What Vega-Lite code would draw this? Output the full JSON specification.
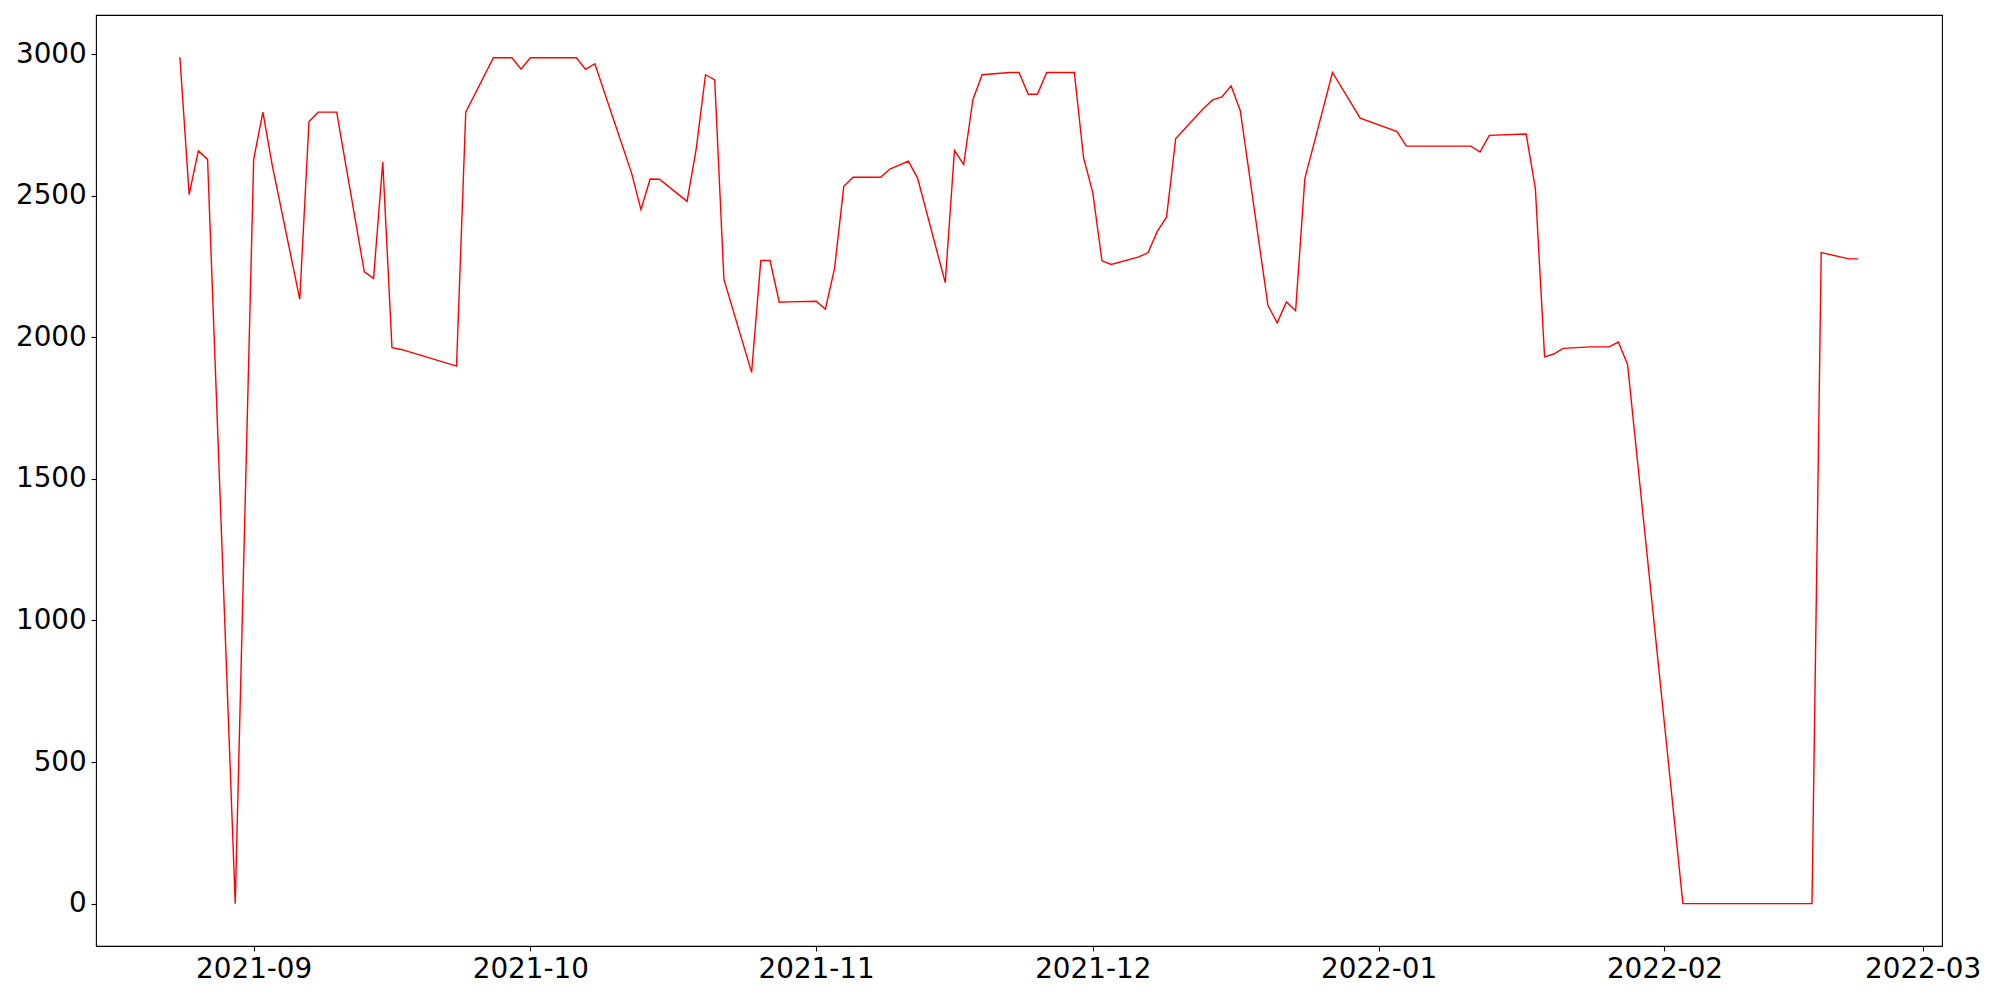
{
  "$schema": "https://vega.github.io/schema/vega-lite/v6.json",
  "autosize": {"type": "none"},
  "width": 1846,
  "height": 931,
  "padding": {"left": 96, "top": 15, "right": 58, "bottom": 54},
  "background": "white",
  "config": {
    "view": {"stroke": "black", "strokeWidth": 1.1},
    "axis": {
      "domain": false,
      "grid": false,
      "ticks": true,
      "tickColor": "black",
      "tickWidth": 1.1,
      "tickSize": 4.9,
      "labelPadding": 4.9,
      "labelFont": "DejaVu Sans",
      "labelFontSize": 27.8,
      "labelColor": "black",
      "title": null
    }
  },
  "data": {
    "values": [
      {"date": "2021-08-24", "value": 2989},
      {"date": "2021-08-25", "value": 2504},
      {"date": "2021-08-26", "value": 2658},
      {"date": "2021-08-27", "value": 2628},
      {"date": "2021-08-30", "value": 0},
      {"date": "2021-09-01", "value": 2628},
      {"date": "2021-09-02", "value": 2795},
      {"date": "2021-09-03", "value": 2610},
      {"date": "2021-09-06", "value": 2134},
      {"date": "2021-09-07", "value": 2762},
      {"date": "2021-09-08", "value": 2795},
      {"date": "2021-09-09", "value": 2795},
      {"date": "2021-09-10", "value": 2795},
      {"date": "2021-09-13", "value": 2231},
      {"date": "2021-09-14", "value": 2208},
      {"date": "2021-09-15", "value": 2619},
      {"date": "2021-09-16", "value": 1963},
      {"date": "2021-09-17", "value": 1957},
      {"date": "2021-09-23", "value": 1898},
      {"date": "2021-09-24", "value": 2795},
      {"date": "2021-09-27", "value": 2987},
      {"date": "2021-09-28", "value": 2987},
      {"date": "2021-09-29", "value": 2987},
      {"date": "2021-09-30", "value": 2947},
      {"date": "2021-10-01", "value": 2987},
      {"date": "2021-10-04", "value": 2987},
      {"date": "2021-10-05", "value": 2987},
      {"date": "2021-10-06", "value": 2987},
      {"date": "2021-10-07", "value": 2946},
      {"date": "2021-10-08", "value": 2966},
      {"date": "2021-10-12", "value": 2578},
      {"date": "2021-10-13", "value": 2451},
      {"date": "2021-10-14", "value": 2559},
      {"date": "2021-10-15", "value": 2558},
      {"date": "2021-10-18", "value": 2480},
      {"date": "2021-10-19", "value": 2666},
      {"date": "2021-10-20", "value": 2927},
      {"date": "2021-10-21", "value": 2909},
      {"date": "2021-10-22", "value": 2204},
      {"date": "2021-10-25", "value": 1876},
      {"date": "2021-10-26", "value": 2271},
      {"date": "2021-10-27", "value": 2271},
      {"date": "2021-10-28", "value": 2124},
      {"date": "2021-10-29", "value": 2125},
      {"date": "2021-11-01", "value": 2127},
      {"date": "2021-11-02", "value": 2099},
      {"date": "2021-11-03", "value": 2244},
      {"date": "2021-11-04", "value": 2533},
      {"date": "2021-11-05", "value": 2565},
      {"date": "2021-11-08", "value": 2565},
      {"date": "2021-11-09", "value": 2594},
      {"date": "2021-11-11", "value": 2622},
      {"date": "2021-11-12", "value": 2562},
      {"date": "2021-11-15", "value": 2193},
      {"date": "2021-11-16", "value": 2660},
      {"date": "2021-11-17", "value": 2610},
      {"date": "2021-11-18", "value": 2839},
      {"date": "2021-11-19", "value": 2927},
      {"date": "2021-11-22", "value": 2935},
      {"date": "2021-11-23", "value": 2935},
      {"date": "2021-11-24", "value": 2858},
      {"date": "2021-11-25", "value": 2858},
      {"date": "2021-11-26", "value": 2935},
      {"date": "2021-11-29", "value": 2935},
      {"date": "2021-11-30", "value": 2634},
      {"date": "2021-12-01", "value": 2511},
      {"date": "2021-12-02", "value": 2270},
      {"date": "2021-12-03", "value": 2257},
      {"date": "2021-12-06", "value": 2284},
      {"date": "2021-12-07", "value": 2299},
      {"date": "2021-12-08", "value": 2374},
      {"date": "2021-12-09", "value": 2424},
      {"date": "2021-12-10", "value": 2702},
      {"date": "2021-12-13", "value": 2808},
      {"date": "2021-12-14", "value": 2838},
      {"date": "2021-12-15", "value": 2849},
      {"date": "2021-12-16", "value": 2888},
      {"date": "2021-12-17", "value": 2800},
      {"date": "2021-12-20", "value": 2112},
      {"date": "2021-12-21", "value": 2051},
      {"date": "2021-12-22", "value": 2125},
      {"date": "2021-12-23", "value": 2094},
      {"date": "2021-12-24", "value": 2560},
      {"date": "2021-12-27", "value": 2935},
      {"date": "2021-12-30", "value": 2774},
      {"date": "2022-01-03", "value": 2726},
      {"date": "2022-01-04", "value": 2675},
      {"date": "2022-01-05", "value": 2675},
      {"date": "2022-01-06", "value": 2675},
      {"date": "2022-01-07", "value": 2675},
      {"date": "2022-01-10", "value": 2675},
      {"date": "2022-01-11", "value": 2675},
      {"date": "2022-01-12", "value": 2654},
      {"date": "2022-01-13", "value": 2713},
      {"date": "2022-01-17", "value": 2718},
      {"date": "2022-01-18", "value": 2525},
      {"date": "2022-01-19", "value": 1931},
      {"date": "2022-01-20", "value": 1941},
      {"date": "2022-01-21", "value": 1961},
      {"date": "2022-01-24", "value": 1966},
      {"date": "2022-01-26", "value": 1966},
      {"date": "2022-01-27", "value": 1983},
      {"date": "2022-01-28", "value": 1904},
      {"date": "2022-02-03", "value": 0},
      {"date": "2022-02-04", "value": 0},
      {"date": "2022-02-07", "value": 0},
      {"date": "2022-02-08", "value": 0},
      {"date": "2022-02-09", "value": 0},
      {"date": "2022-02-10", "value": 0},
      {"date": "2022-02-11", "value": 0},
      {"date": "2022-02-14", "value": 0},
      {"date": "2022-02-15", "value": 0},
      {"date": "2022-02-16", "value": 0},
      {"date": "2022-02-17", "value": 0},
      {"date": "2022-02-18", "value": 2299},
      {"date": "2022-02-21", "value": 2277},
      {"date": "2022-02-22", "value": 2277}
    ]
  },
  "mark": {"type": "line", "color": "red", "strokeWidth": 1.4, "clip": true},
  "encoding": {
    "x": {
      "field": "date",
      "type": "temporal",
      "scale": {
        "type": "utc",
        "domain": [
          {"year": 2021, "month": 8, "date": 14, "hours": 21, "minutes": 36, "utc": true},
          {"year": 2022, "month": 3, "date": 3, "hours": 2, "minutes": 24, "utc": true}
        ],
        "nice": false
      },
      "axis": {
        "labelExpr": "utcFormat(datum.value, '%Y-%m')",
        "values": [
          {"year": 2021, "month": 9, "date": 1, "utc": true},
          {"year": 2021, "month": 10, "date": 1, "utc": true},
          {"year": 2021, "month": 11, "date": 1, "utc": true},
          {"year": 2021, "month": 12, "date": 1, "utc": true},
          {"year": 2022, "month": 1, "date": 1, "utc": true},
          {"year": 2022, "month": 2, "date": 1, "utc": true},
          {"year": 2022, "month": 3, "date": 1, "utc": true}
        ],
        "labelAngle": 0
      }
    },
    "y": {
      "field": "value",
      "type": "quantitative",
      "scale": {"domain": [-149.5, 3138], "nice": false, "zero": false},
      "axis": {"values": [0, 500, 1000, 1500, 2000, 2500, 3000], "format": "d"}
    }
  }
}
